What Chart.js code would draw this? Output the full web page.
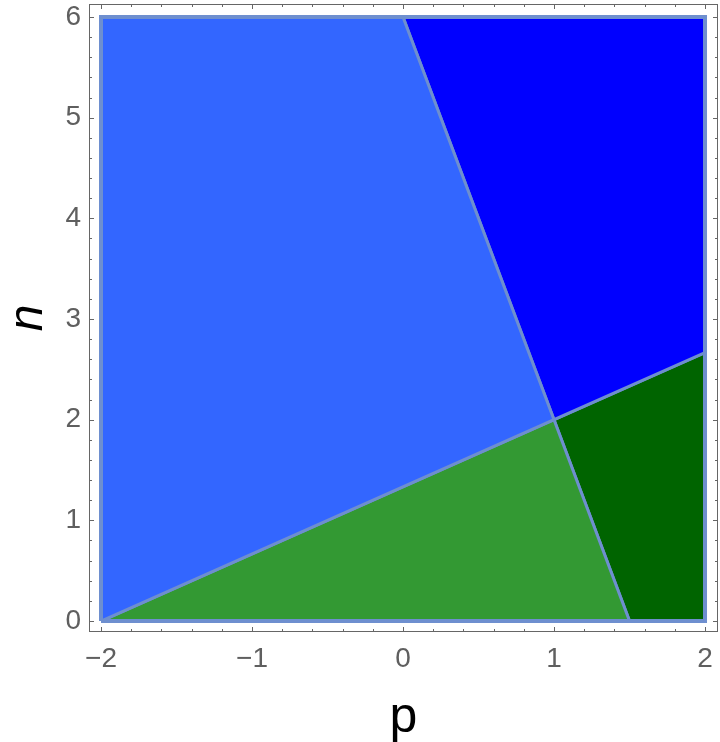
<!DOCTYPE html>
<html>
<head>
<meta charset="utf-8">
<script src="https://cdn.jsdelivr.net/npm/chart.js@4.4.1/dist/chart.umd.min.js"></script>
<style>
  html, body { margin: 0; padding: 0; background: #fff; }
  #wrap { width: 720px; height: 742px; }
</style>
</head>
<body>
<div id="wrap"><canvas id="regionCanvas"></canvas></div>
<script>
// axis tick labels
const pTicks = [-2, -1, 0, 1, 2];
const nTicks = [0, 1, 2, 3, 4, 5, 6];

// region corners (p, n)
const leftP = [-2, -2, 0, 1, -2];
const leftN = [0, 6, 6, 2, 0];
const topRightP = [0, 2, 2, 1, 0];
const topRightN = [6, 6, 2.667, 2, 6];
const bottomP = [-2, 1, 1.5, -2];
const bottomN = [0, 2, 0, 0];
const bottomRightP = [1, 2, 2, 1.5, 1];
const bottomRightN = [2, 2.667, 0, 0, 2];
const outlineP = [-2, 2, 2, -2, -2];
const outlineN = [0, 0, 6, 6, 0];

const edge = '#6e8fcf';
const font = 'Liberation Sans, Arial, sans-serif';

function pts(ps, ns) {
    return ps.map((p, i) => ({ x: p, y: ns[i] }));
}

function region(ps, ns, color) {
    return {
        data: pts(ps, ns),
        showLine: true,
        fill: 'shape',
        backgroundColor: color,
        borderColor: edge,
        borderWidth: 3,
        pointRadius: 0,
        tension: 0
    };
}

// every 0.2 for the small tick marks, labels only on whole numbers
function tickValues(majors) {
    const out = [];
    for (let i = 0; i < majors.length; i++) {
        out.push(majors[i]);
        if (i < majors.length - 1) {
            for (let k = 1; k < 5; k++) out.push(Math.round((majors[i] + k * 0.2) * 10) / 10);
        }
    }
    return out;
}

const tickMarks = {
    id: 'tickMarks',
    afterDraw(chart) {
        const { ctx, chartArea: a, scales: { x, y } } = chart;
        ctx.save();
        ctx.strokeStyle = '#666';
        ctx.lineWidth = 1;
        ctx.strokeRect(a.left + 0.5, a.top + 0.5, a.right - a.left - 1, a.bottom - a.top - 1);
        ctx.beginPath();
        x.ticks.forEach(t => {
            const px = Math.round(x.getPixelForValue(t.value)) + 0.5;
            const len = Number.isInteger(t.value) ? 5 : 3;
            ctx.moveTo(px, a.bottom); ctx.lineTo(px, a.bottom - len);
            ctx.moveTo(px, a.top); ctx.lineTo(px, a.top + len);
        });
        y.ticks.forEach(t => {
            const py = Math.round(y.getPixelForValue(t.value)) + 0.5;
            const len = Number.isInteger(t.value) ? 5 : 3;
            ctx.moveTo(a.left, py); ctx.lineTo(a.left + len, py);
            ctx.moveTo(a.right, py); ctx.lineTo(a.right - len, py);
        });
        ctx.stroke();
        ctx.restore();
    }
};

const label = v => Number.isInteger(v) ? String(v).replace('-', '\u2212') : '';

new Chart(document.getElementById('regionCanvas'), {
    type: 'scatter',
    data: {
        datasets: [
            {
                data: pts(outlineP, outlineN),
                showLine: true,
                fill: false,
                borderColor: edge,
                borderWidth: 4,
                pointRadius: 0
            },
            region(leftP, leftN, '#3366ff'),
            region(topRightP, topRightN, '#0000ff'),
            region(bottomP, bottomN, '#339933'),
            region(bottomRightP, bottomRightN, '#006400')
        ]
    },
    options: {
        responsive: true,
        maintainAspectRatio: false,
        animation: false,
        layout: { padding: { top: 4, right: 2, left: 0, bottom: 0 } },
        plugins: { legend: { display: false }, tooltip: { enabled: false } },
        scales: {
            x: {
                type: 'linear',
                min: -2.0795,
                max: 2.086,
                afterBuildTicks: s => { s.ticks = tickValues(pTicks).map(v => ({ value: v })); },
                afterFit: s => { s.height = 110; s.paddingLeft = 0; s.paddingRight = 0; },
                grid: { display: false, drawTicks: false },
                border: { display: false },
                ticks: {
                    autoSkip: false,
                    maxRotation: 0,
                    padding: 10,
                    color: '#5f5f5f',
                    font: { family: font, size: 28 },
                    callback: label
                },
                title: {
                    display: true,
                    text: 'p',
                    color: '#000',
                    font: { family: font, size: 50 },
                    padding: { top: 0, bottom: -6 }
                }
            },
            y: {
                type: 'linear',
                min: -0.109,
                max: 6.129,
                afterBuildTicks: s => { s.ticks = tickValues(nTicks).map(v => ({ value: v })); },
                afterFit: s => { s.width = 89; s.paddingTop = 0; s.paddingBottom = 0; },
                grid: { display: false, drawTicks: false },
                border: { display: false },
                ticks: {
                    autoSkip: false,
                    padding: 8,
                    color: '#5f5f5f',
                    font: { family: font, size: 28 },
                    callback: label
                },
                title: {
                    display: true,
                    text: 'n',
                    color: '#000',
                    font: { family: font, size: 48, style: 'italic' },
                    padding: { top: 0, bottom: 0 }
                }
            }
        }
    },
    plugins: [tickMarks]
});
</script>
</body>
</html>
